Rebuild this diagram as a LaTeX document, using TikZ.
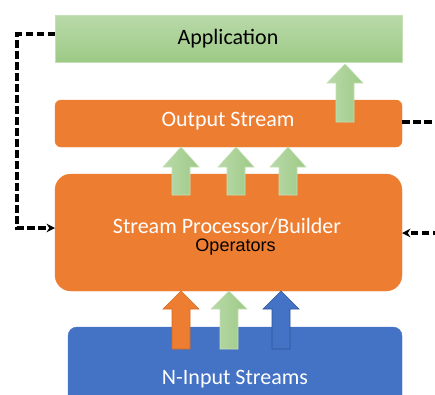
\documentclass[tikz,border=0pt]{standalone}
\usepackage{fontspec}
\setmainfont{Carlito}
\newfontfamily\arialfont{Liberation Sans}
\usetikzlibrary{arrows.meta}
\definecolor{offorange}{HTML}{ED7D31}
\definecolor{offorangedark}{HTML}{D46A22}
\definecolor{offblue}{HTML}{4472C4}
\definecolor{offbluedark}{HTML}{2F5597}
\definecolor{greentop}{HTML}{B9D9A9}
\definecolor{greenbot}{HTML}{9DCA86}
\definecolor{greenedge}{HTML}{C5E0B4}
\tikzset{
  x=1pt, y=-1pt,
  bigtext/.style={font=\fontsize{22}{26}\selectfont},
  appbox/.style={draw=greenedge, line width=0.6pt, top color=greentop, bottom color=greenbot, shading angle=0},
  orangebox/.style={draw=offorange, fill=offorange, line width=0.4pt},
  bluebox/.style={draw=offblue, fill=offblue, line width=0.4pt},
  greenarrow/.style={draw=greenedge, line width=0.6pt, left color=greentop, right color=greenbot},
  orangearrow/.style={draw=offorangedark, line width=0.6pt, fill=offorange},
  bluearrow/.style={draw=offbluedark, line width=0.6pt, fill=offblue},
  dashconn/.style={draw=black, line width=3.2pt, dash pattern=on 7.5pt off 3.5pt},
  dashtip/.style={-{Stealth[length=8.5pt,width=8.5pt]}},
}
% \blockarr{style}{center x}{tip y}{head base y}{bottom y}
\newcommand{\blockarr}[5]{%
  \path[#1] (#2,#3) -- (#2+18,#4) -- (#2+9,#4) -- (#2+9,#5) -- (#2-9,#5) -- (#2-9,#4) -- (#2-18,#4) -- cycle;}
\begin{document}
\begin{tikzpicture}[line width=3.2pt]
\useasboundingbox (0,0) rectangle (435,394);
\clip (0,0) rectangle (435,394);
% boxes
\path[appbox] (55,15) rectangle (402,62);
\node[bigtext, text=black] (app) at (228,39) {Application};
\coordinate (appW) at (55,34);
\path[orangebox, rounded corners=6pt] (55,100) rectangle (402,147);
\node[bigtext, text=white] (out) at (228,121) {Output Stream};
\coordinate (outE) at (402,122);
\path[orangebox, rounded corners=16pt] (55,174) rectangle (402,291);
\node[bigtext, text=white] (proc) at (227,226) {Stream Processor/Builder};
\node[font=\arialfont\fontsize{18}{21}\selectfont, text=black] (ops) at (235.5,247) {Operators};
\coordinate (procW) at (55,228);
\coordinate (procE) at (402,233);
\path[bluebox, rounded corners=9pt] (68,327) rectangle (402,410);
\node[bigtext, text=white] (inp) at (235,379) {N-Input Streams};
% block arrows
\blockarr{greenarrow}{345}{64}{83}{122}
\blockarr{greenarrow}{181}{147}{167}{195}
\blockarr{greenarrow}{236}{147}{167}{195}
\blockarr{greenarrow}{288}{147}{167}{195}
\blockarr{orangearrow}{181}{291}{309}{349}
\blockarr{greenarrow}{229}{291}{309}{349}
\blockarr{bluearrow}{281}{291}{309}{349}
% dashed connectors
\coordinate (lefttop) at (17,34);
\coordinate (leftbot) at (17,228);
\coordinate (rightA) at (440,122);
\coordinate (rightB) at (440,233);
\draw[dashconn, dashtip] (appW) -- (lefttop) -- (leftbot) -- (procW);
\draw[dashconn] (outE) -- (rightA);
\draw[dashconn, dashtip] (rightB) -- (procE);
\end{tikzpicture}
\end{document}
